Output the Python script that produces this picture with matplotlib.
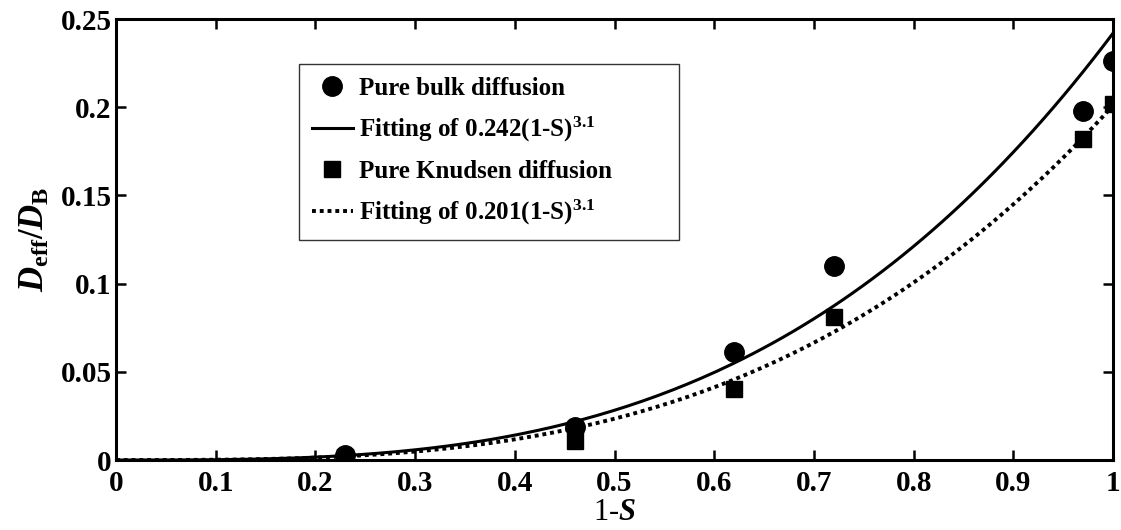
import numpy as np
import matplotlib
matplotlib.use('Agg')
import matplotlib.pyplot as plt

plt.rcParams['font.family'] = ['Liberation Serif', 'DejaVu Serif']
plt.rcParams['font.weight'] = 'bold'
plt.rcParams['mathtext.fontset'] = 'custom'
plt.rcParams['mathtext.rm'] = 'Liberation Serif:bold'
plt.rcParams['mathtext.it'] = 'Liberation Serif:bold:italic'
plt.rcParams['mathtext.bf'] = 'Liberation Serif:bold'

# measured points (1-S, Deff/DB)
s_pts = [0.23, 0.46, 0.62, 0.72, 0.97, 1.0]
bulk = [0.003, 0.019, 0.061, 0.110, 0.198, 0.226]
knudsen = [0.002, 0.011, 0.040, 0.081, 0.182, 0.202]

# fitted coefficients a*(1-S)^n
a_bulk = 0.242
a_knud = 0.201
n_exp = 3.1

x_ticks = [0, 0.1, 0.2, 0.3, 0.4, 0.5, 0.6, 0.7, 0.8, 0.9, 1]
y_ticks = [0, 0.05, 0.1, 0.15, 0.2, 0.25]

x = np.linspace(0, 1, 200)

fig = plt.figure(figsize=(11.21, 5.30), dpi=100)
ax = fig.add_axes([0.1035, 0.132, 0.8894, 0.832])

ax.plot(s_pts, bulk, 'o', color='k', markersize=14, label='Pure bulk diffusion')
ax.plot(x, a_bulk * x ** n_exp, '-', color='k', linewidth=2.2,
        label=r'Fitting of 0.242(1-S)$^{3.1}$')
ax.plot(s_pts, knudsen, 's', color='k', markersize=11, label='Pure Knudsen diffusion')
ax.plot(x, a_knud * x ** n_exp, color='k', linewidth=2.8, linestyle=(0, (1, 1)),
        dash_capstyle='butt', label=r'Fitting of 0.201(1-S)$^{3.1}$')

ax.set_xlim(0, 1)
ax.set_ylim(0, 0.25)
ax.set_xticks(x_ticks)
ax.set_yticks(y_ticks)
ax.set_xticklabels(['%g' % t for t in x_ticks])
ax.set_yticklabels(['%g' % t for t in y_ticks])
ax.tick_params(direction='in', top=True, right=True, length=7, width=1.8,
               labelsize=21)
ax.tick_params(axis='x', pad=7)
ax.tick_params(axis='y', pad=3)
for sp in ax.spines.values():
    sp.set_linewidth(2.2)

ax.set_xlabel(r'1-$\mathit{S}$', fontsize=22, labelpad=1)
ax.set_ylabel(r'$\mathit{D}_{\mathrm{eff}}/\mathit{D}_{\mathrm{B}}$', fontsize=25, labelpad=6)

# legend box spans ~0.184..0.565 in axes fraction
leg = ax.legend(loc='upper left', bbox_to_anchor=(0.1836, 0.898, 0.381, 0.0),
                mode='expand', borderaxespad=0,
                fontsize=18, fancybox=False, frameon=True, handlelength=1.65,
                handletextpad=0.25, labelspacing=0.62, borderpad=0.5)
leg.get_frame().set_edgecolor('k')
leg.get_frame().set_linewidth(1.0)

fig.savefig('out.png', dpi=100)
